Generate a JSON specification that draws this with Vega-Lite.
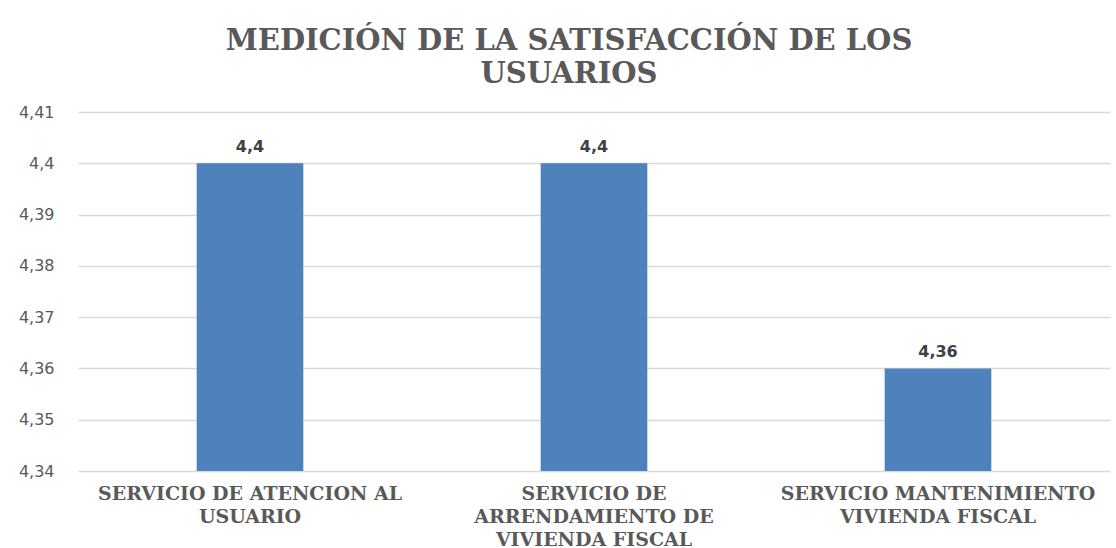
{
  "$schema": "https://vega.github.io/schema/vega-lite/v6.json",
  "width": 1032,
  "height": 359,
  "autosize": {"type": "none"},
  "padding": {"left": 78, "top": 112, "right": 6, "bottom": 77},
  "background": "white",
  "config": {
    "locale": {"number": {"decimal": ",", "thousands": ".", "grouping": [3], "currency": ["$", ""]}},
    "view": {"stroke": null},
    "font": "DejaVu Sans"
  },
  "title": {
    "text": ["MEDICIÓN DE LA SATISFACCIÓN DE LOS", "USUARIOS"],
    "font": "DejaVu Serif",
    "fontWeight": "bold",
    "fontSize": 29,
    "lineHeight": 33,
    "color": "#595959",
    "anchor": "middle",
    "frame": "group",
    "dx": -25,
    "offset": 15
  },
  "data": {
    "values": [
      {"servicio": "SERVICIO DE ATENCION AL USUARIO", "valor": 4.4},
      {"servicio": "SERVICIO DE ARRENDAMIENTO DE VIVIENDA FISCAL", "valor": 4.4},
      {"servicio": "SERVICIO MANTENIMIENTO VIVIENDA FISCAL", "valor": 4.36}
    ]
  },
  "encoding": {
    "x": {
      "field": "servicio",
      "type": "nominal",
      "sort": null,
      "scale": {"paddingInner": 0.69, "paddingOuter": 0.345},
      "axis": {
        "title": null,
        "labelAngle": 0,
        "ticks": false,
        "domain": false,
        "labelFont": "DejaVu Serif",
        "labelFontWeight": "bold",
        "labelFontSize": 19,
        "labelColor": "#595959",
        "labelLineHeight": 23,
        "labelPadding": 13,
        "labelLimit": 400,
        "labelExpr": "datum.value == 'SERVICIO DE ATENCION AL USUARIO' ? ['SERVICIO DE ATENCION AL', 'USUARIO'] : datum.value == 'SERVICIO DE ARRENDAMIENTO DE VIVIENDA FISCAL' ? ['SERVICIO DE', 'ARRENDAMIENTO DE', 'VIVIENDA FISCAL'] : ['SERVICIO MANTENIMIENTO', 'VIVIENDA FISCAL']"
      }
    }
  },
  "layer": [
    {
      "mark": {"type": "bar", "color": "#4F81BD"},
      "encoding": {
        "y": {
          "field": "valor",
          "type": "quantitative",
          "scale": {"domain": [4.34, 4.41], "zero": false, "nice": false},
          "axis": {
            "title": null,
            "values": [4.34, 4.35, 4.36, 4.37, 4.38, 4.39, 4.4, 4.41],
            "format": ".2~f",
            "ticks": false,
            "domain": false,
            "gridColor": "#d9d9d9",
            "gridWidth": 1.5,
            "labelFont": "DejaVu Sans",
            "labelFontSize": 16,
            "labelColor": "#595959",
            "labelPadding": 24
          }
        },
        "y2": {"datum": 4.34}
      }
    },
    {
      "mark": {"type": "text", "font": "DejaVu Sans", "fontWeight": "bold", "fontSize": 16, "color": "#404040", "baseline": "alphabetic", "dy": -11},
      "encoding": {
        "y": {"field": "valor", "type": "quantitative"},
        "text": {"field": "valor", "type": "quantitative", "format": ".2~f"}
      }
    }
  ]
}
